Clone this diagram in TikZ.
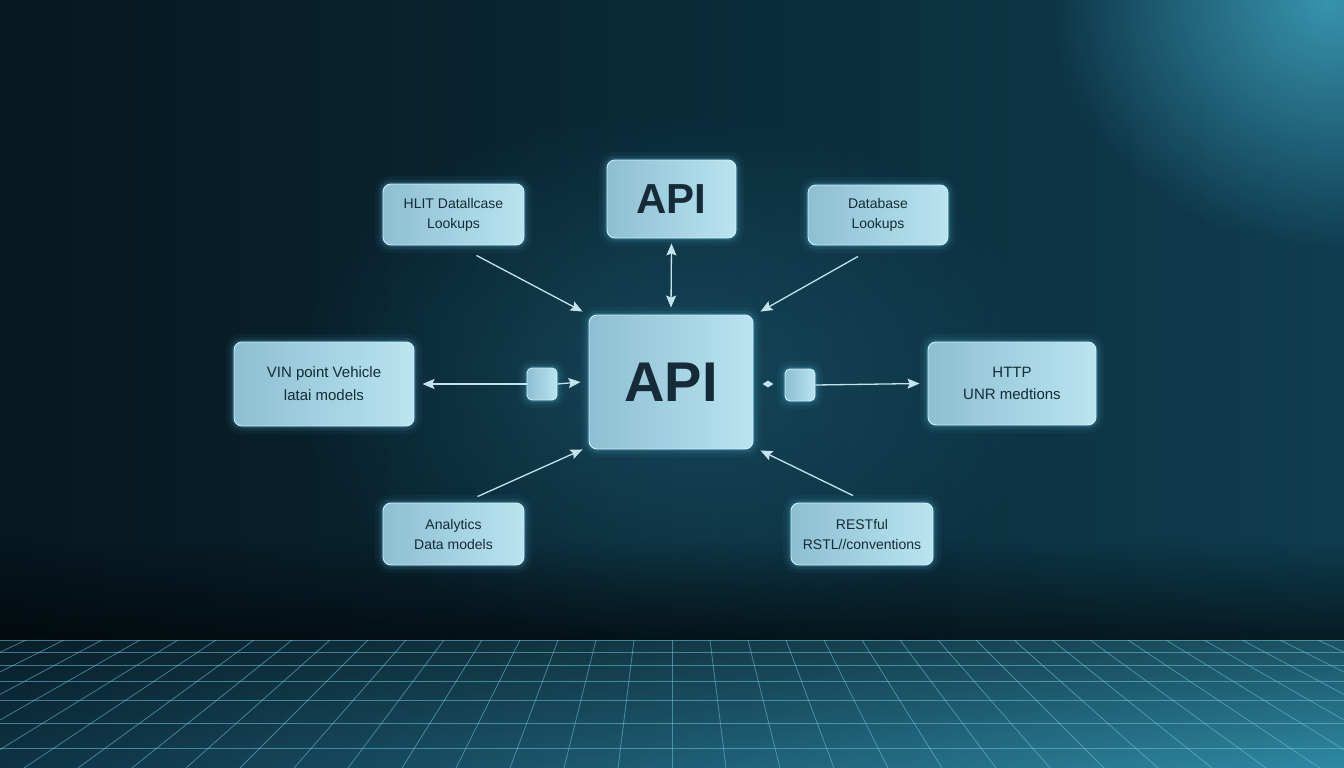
\documentclass[tikz,border=0pt]{standalone}
\usepackage{fontspec}
\setmainfont{Liberation Sans}
\usetikzlibrary{arrows.meta,calc,fadings,shapes.geometric}
\definecolor{bgL}{HTML}{06161F}
\definecolor{bgR}{HTML}{0F3D50}
\definecolor{glowTR}{HTML}{3FA3C0}
\definecolor{glowC}{HTML}{2A7F9C}
\definecolor{floorL}{HTML}{0E3244}
\definecolor{floorR}{HTML}{2F8BA6}
\definecolor{gridc}{HTML}{6FC2DA}
\definecolor{boxL}{HTML}{8DBFD2}
\definecolor{boxR}{HTML}{B9E4F1}
\definecolor{boxB}{HTML}{D2F0FA}
\definecolor{halo}{HTML}{5FC8EA}
\definecolor{txt}{HTML}{152B37}
\definecolor{arrc}{HTML}{C3E3EF}
\tikzfading[name=radglow, inner color=transparent!0, outer color=transparent!100]
\tikzfading[name=fadetopclear, top color=transparent!100, bottom color=transparent!0]
\tikzfading[name=fadebottomclear, top color=transparent!0, bottom color=transparent!100]
\begin{document}
\begin{tikzpicture}[x=1pt,y=-1pt,
  box/.style={rounded corners=8pt, left color=boxL, right color=boxR, draw=boxB,
    line width=0.9pt, text=txt, align=center, inner sep=0pt,
    preaction={draw=halo, line width=16pt, opacity=0.05},
    preaction={draw=halo, line width=9pt, opacity=0.09},
    preaction={draw=halo, line width=4pt, opacity=0.16}},
  smallbox/.style={box, rounded corners=5pt, minimum width=30pt, minimum height=32pt},
  arr/.style={draw=arrc, line width=1.3pt, -{Stealth[length=12pt,width=10pt,inset=2pt]}},
  dbl/.style={draw=arrc, line width=1.3pt, {Stealth[length=12pt,width=10pt,inset=2pt]}-{Stealth[length=12pt,width=10pt,inset=2pt]}},
  gridline/.style={draw=gridc, line width=0.8pt, opacity=0.55},
  smalltext/.style={font=\fontsize{14}{20}\selectfont},
  midtext/.style={font=\fontsize{15}{23}\selectfont}]
\useasboundingbox (0,0) rectangle (1344,768);
\begin{scope}
\clip (0,0) rectangle (1344,768);
% wall
\shade[left color=bgL, right color=bgR] (-20,-20) rectangle (1364,640);
\fill[glowTR, path fading=radglow, opacity=0.85] (1330,0) ellipse (280 and 250);
\fill[glowC, path fading=radglow, opacity=0.35] (671,380) ellipse (380 and 270);
\fill[black, opacity=0.55, path fading=fadetopclear] (-20,540) rectangle (1364,641);
% floor
\shade[left color=floorL, right color=floorR] (-20,640) rectangle (1364,788);
\fill[black, opacity=0.4, path fading=fadebottomclear] (-20,768) rectangle (1364,640);
\foreach \k in {-24,...,24} \draw[gridline] ({672+38*\k},640) -- ({672+54*\k},768);
\foreach \yy in {640,652,665,681,700,723,748} \draw[gridline] (-20,\yy) -- (1364,\yy);
\end{scope}
% nodes
\node[box, minimum width=141pt, minimum height=61pt, smalltext] (tl) at (453.5,214.5) {HLIT Datallcase\\Lookups};
\node[box, minimum width=129pt, minimum height=78pt, font=\fontsize{42}{42}\selectfont\bfseries] (apitop) at (671.5,199) {API};
\node[box, minimum width=140pt, minimum height=60pt, smalltext] (tr) at (878,215) {Database\\Lookups};
\node[box, minimum width=180pt, minimum height=84pt, midtext] (vin) at (324,384) {VIN point Vehicle\\latai models};
\node[box, minimum width=164pt, minimum height=134pt, font=\fontsize{56}{56}\selectfont\bfseries] (api) at (671,382) {API};
\node[box, minimum width=168pt, minimum height=83pt, font=\fontsize{15}{22}\selectfont] (http) at (1012,383.5) {HTTP\\UNR medtions};
\node[box, minimum width=141pt, minimum height=62pt, smalltext] (bl) at (453.5,534) {Analytics\\Data models};
\node[box, minimum width=142pt, minimum height=62pt, smalltext] (br) at (862,534) {RESTful\\RSTL//conventions};
\node[smallbox] (sqL) at (542,384) {};
\node[smallbox] (sqR) at (800,385) {};
\node[diamond, fill=arrc, inner sep=0pt, minimum width=11pt, minimum height=7pt] (dia) at (768,384) {};
% connectors
\draw[arr] ($(tl.south)+(23,10)$) -- ($(api.north west)+(-6,-3)$);
\draw[dbl] ($(apitop.south)+(0,5)$) -- ($(api.north)+(0,-7)$);
\draw[arr] ($(tr.south)+(-20,11)$) -- ($(api.north east)+(7,-3)$);
\draw[arr] (sqL.west) -- ($(vin.east)+(8,0)$);
\draw[arr] (sqL.east) -- ($(api.west)+(-8,0)$);
\draw[arr] (sqR.east) -- ($(http.west)+(-8,0)$);
\draw[arr] ($(bl.north)+(24,-6)$) -- ($(api.south west)+(-6,0)$);
\draw[arr] ($(br.north)+(-9,-7)$) -- ($(api.south east)+(7,1)$);
\end{tikzpicture}
\end{document}
